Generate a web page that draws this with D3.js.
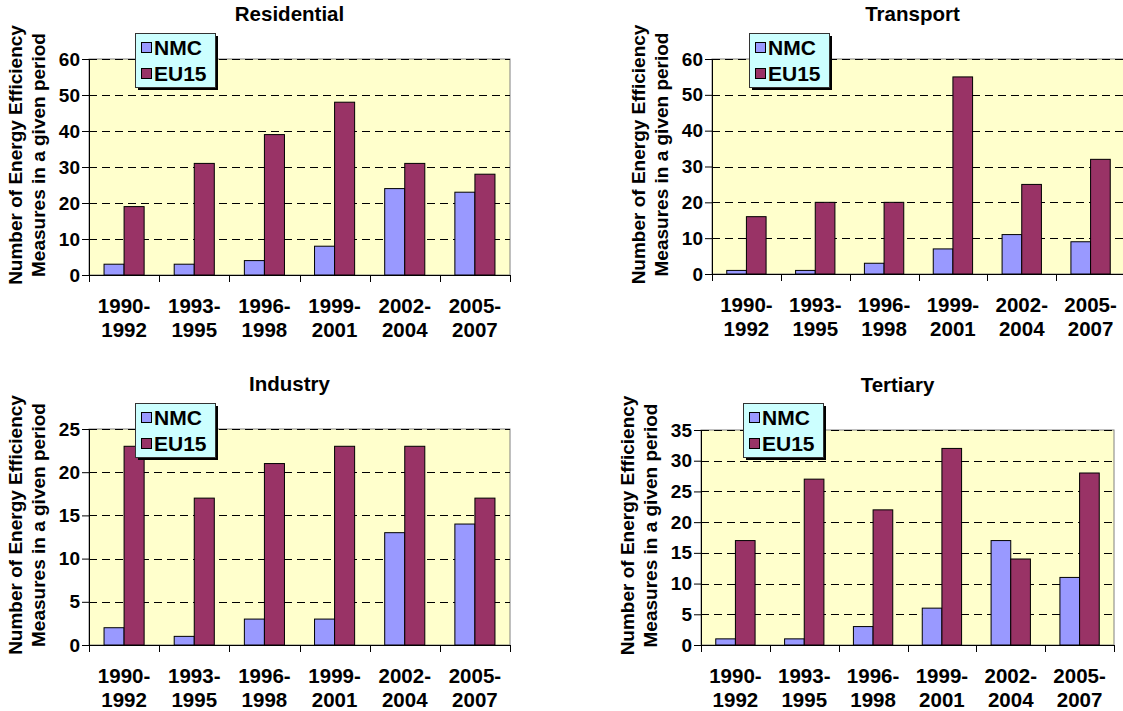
<!DOCTYPE html>
<html>
<head>
<meta charset="utf-8">
<script src="https://cdn.jsdelivr.net/npm/d3@7"></script>
<style>
  html, body { margin: 0; padding: 0; background: #fff; }
  svg { display: block; font-family: Arial, "Liberation Sans", sans-serif; font-weight: bold; }
</style>
</head>
<body>
<svg id="chart" width="1123" height="711"></svg>
<script>
// data
const periods = ['1990-1992', '1993-1995', '1996-1998', '1999-2001', '2002-2004', '2005-2007'];
const series = ['NMC', 'EU15'];

const residentialNMC = [3, 3, 4, 8, 24, 23];
const residentialEU15 = [19, 31, 39, 48, 31, 28];
const transportNMC = [1, 1, 3, 7, 11, 9];
const transportEU15 = [16, 20, 20, 55, 25, 32];
const industryNMC = [2, 1, 3, 3, 13, 14];
const industryEU15 = [23, 17, 21, 23, 23, 17];
const tertiaryNMC = [1, 1, 3, 6, 17, 11];
const tertiaryEU15 = [17, 27, 22, 32, 14, 28];

const residentialTicks = [0, 10, 20, 30, 40, 50, 60];
const transportTicks = [0, 10, 20, 30, 40, 50, 60];
const industryTicks = [0, 5, 10, 15, 20, 25];
const tertiaryTicks = [0, 5, 10, 15, 20, 25, 30, 35];

const colors = { NMC: '#9999ff', EU15: '#993366' };
const yTitle = ['Number of Energy Efficiency', 'Measures in a given period'];

// panel layout
const panels = [
    { title: 'Residential', nmc: residentialNMC, eu: residentialEU15, ticks: residentialTicks,
      left: 89, right: 510, top: 59, bottom: 275, legend: [135, 33] },
    { title: 'Transport', nmc: transportNMC, eu: transportEU15, ticks: transportTicks,
      left: 712, right: 1125, top: 59, bottom: 274, legend: [749, 33] },
    { title: 'Industry', nmc: industryNMC, eu: industryEU15, ticks: industryTicks,
      left: 89, right: 510, top: 429, bottom: 645, legend: [135, 403] },
    { title: 'Tertiary', nmc: tertiaryNMC, eu: tertiaryEU15, ticks: tertiaryTicks,
      left: 701, right: 1114, top: 430, bottom: 645, legend: [743, 403] }
];

const svg = d3.select('#chart');

panels.forEach(p => {
    const g = svg.append('g');
    const data = periods.map((d, i) => ({ period: d, NMC: p.nmc[i], EU15: p.eu[i] }));

    const x0 = d3.scaleBand().domain(periods).range([p.left, p.right]);
    const x1 = d3.scaleBand().domain(series).range([0, x0.bandwidth()]).paddingOuter(0.75);
    const y = d3.scaleLinear().domain([0, d3.max(p.ticks)]).range([p.bottom, p.top]);

    // plot area
    g.append('rect')
        .attr('x', p.left).attr('y', p.top)
        .attr('width', p.right - p.left).attr('height', p.bottom - p.top)
        .attr('fill', '#ffffcc')
        .attr('stroke', '#808080')
        .attr('stroke-width', 1);

    // dashed gridlines
    g.selectAll('.grid')
        .data(p.ticks.filter(t => t > 0))
        .join('line')
        .attr('x1', p.left).attr('x2', p.right)
        .attr('y1', d => Math.round(y(d)) + 0.5).attr('y2', d => Math.round(y(d)) + 0.5)
        .attr('stroke', '#000')
        .attr('stroke-dasharray', '8,5');

    // bars
    const groups = g.selectAll('.grp')
        .data(data)
        .join('g')
        .attr('transform', d => `translate(${x0(d.period)},0)`);

    groups.selectAll('rect')
        .data(d => series.map(s => ({ key: s, value: d[s] })))
        .join('rect')
        .attr('x', d => x1(d.key))
        .attr('y', d => y(d.value))
        .attr('width', x1.bandwidth())
        .attr('height', d => y(0) - y(d.value))
        .attr('fill', d => colors[d.key])
        .attr('stroke', '#000')
        .attr('stroke-width', 1);

    // y axis
    const yAxis = d3.axisLeft(y).tickValues(p.ticks).tickSize(7).tickPadding(2);
    const ya = g.append('g')
        .attr('transform', `translate(${p.left},0)`)
        .call(yAxis);
    ya.select('.domain').attr('stroke', '#000');
    ya.selectAll('text')
        .attr('font-family', 'Arial, "Liberation Sans", sans-serif')
        .attr('font-weight', 'bold')
        .attr('font-size', 19)
        .attr('fill', '#000');

    // x axis with category tick marks at band edges
    g.append('line')
        .attr('x1', p.left).attr('x2', p.right)
        .attr('y1', p.bottom + 0.5).attr('y2', p.bottom + 0.5)
        .attr('stroke', '#000');
    g.selectAll('.xtick')
        .data(periods.concat(['end']))
        .join('line')
        .attr('x1', (d, i) => Math.round(p.left + i * x0.step()) + 0.5)
        .attr('x2', (d, i) => Math.round(p.left + i * x0.step()) + 0.5)
        .attr('y1', p.bottom)
        .attr('y2', p.bottom + 7)
        .attr('stroke', '#000');

    const xl = g.selectAll('.xlab')
        .data(periods)
        .join('text')
        .attr('text-anchor', 'middle')
        .attr('font-size', 20.5)
        .attr('fill', '#000');
    xl.append('tspan')
        .attr('x', d => x0(d) + x0.bandwidth() / 2)
        .attr('y', p.bottom + 38)
        .text(d => d.split('-')[0] + '-');
    xl.append('tspan')
        .attr('x', d => x0(d) + x0.bandwidth() / 2)
        .attr('y', p.bottom + 62)
        .text(d => d.split('-')[1]);

    // title
    g.append('text')
        .attr('x', (p.left + p.right) / 2 - (p.right > 1115 ? 6 : 10))
        .attr('y', p.top - 38)
        .attr('text-anchor', 'middle')
        .attr('font-size', 20.5)
        .text(p.title);

    // y axis title
    const cy = (p.top + p.bottom) / 2 - 12;
    yTitle.forEach((t, i) => {
        g.append('text')
            .attr('transform', `translate(${p.left - 67 + i * 23},${cy}) rotate(-90)`)
            .attr('text-anchor', 'middle')
            .attr('font-size', 19)
            .text(t);
    });

    // legend
    const [lx, ly] = p.legend;
    g.append('rect')
        .attr('x', lx + 3).attr('y', ly + 3)
        .attr('width', 80).attr('height', 54)
        .attr('fill', '#000');
    g.append('rect')
        .attr('x', lx + 0.5).attr('y', ly + 0.5)
        .attr('width', 80).attr('height', 54)
        .attr('fill', '#ccffff')
        .attr('stroke', '#333');
    series.forEach((s, i) => {
        g.append('rect')
            .attr('x', lx + 6.5).attr('y', ly + 9.5 + i * 26)
            .attr('width', 10).attr('height', 10)
            .attr('fill', colors[s])
            .attr('stroke', '#000');
        g.append('text')
            .attr('x', lx + 19)
            .attr('y', ly + 22 + i * 26)
            .attr('font-size', 21)
            .text(s);
    });
});
</script>
</body>
</html>
